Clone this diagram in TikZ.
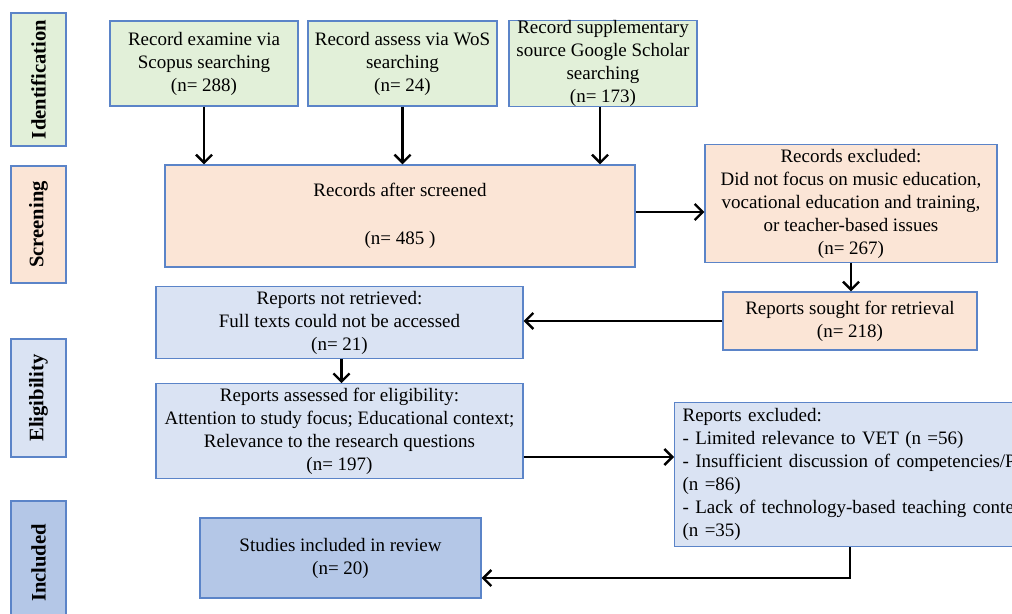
\documentclass[tikz,border=0pt]{standalone}
\usepackage{fontspec}
\setmainfont{Liberation Serif}
\usetikzlibrary{arrows.meta}
\definecolor{idgreen}{HTML}{E2F0D9}
\definecolor{scrpeach}{HTML}{FBE5D6}
\definecolor{elblue}{HTML}{DAE3F3}
\definecolor{inblue}{HTML}{B4C7E7}
\definecolor{edgeblue}{HTML}{5B84C8}
\begin{document}
\begin{tikzpicture}[x=0.5pt, y=-0.5pt,
  box/.style={draw=edgeblue, line width=0.6pt, inner sep=2pt, align=center,
    font=\fontsize{9.5}{11.5}\selectfont},
  stage/.style={box, rotate=90, minimum height=27.5pt,
    font=\fontsize{10.3}{12}\selectfont\bfseries},
  flow/.style={line width=1.2pt, -{Straight Barb[length=4pt, width=8pt, line width=1.2pt]}}]
\clip (0,0) rectangle (1012,614);
% stage labels
\node[stage, fill=idgreen, minimum width=66.5pt] (idlab) at (38.5,79.5){Identification};
\node[stage, fill=scrpeach, minimum width=58.5pt] (scrlab) at (38.5,224.5){Screening};
\node[stage, fill=elblue, minimum width=59pt] (elilab) at (38.5,398){Eligibility};
\node[stage, fill=inblue, minimum width=62pt] (inclab) at (38.5,563){Included};
% identification
\node[box, fill=idgreen, minimum width=94pt, minimum height=42.5pt] (scopus) at (204,63.5){Record examine via\\Scopus searching\\(n= 288)};
\node[box, fill=idgreen, minimum width=94.5pt, minimum height=42.5pt] (wos) at (402.5,63.5){Record assess via WoS\\searching\\(n= 24)};
\node[box, fill=idgreen, minimum width=94pt, minimum height=42.5pt, inner sep=0pt] (scholar) at (603,63.5){Record supplementary\\source Google Scholar\\searching\\(n= 173)};
% screening
\node[box, fill=scrpeach, minimum width=235pt, minimum height=51pt] (screened) at (400,216){Records after screened\\[12.5pt](n= 485 )};
\node[box, fill=scrpeach, minimum width=146pt, minimum height=58.5pt] (excl) at (851,203.5){Records excluded:\\Did not focus on music education,\\vocational education and training,\\or teacher-based issues\\(n= 267)};
\node[box, fill=scrpeach, minimum width=127pt, minimum height=29pt] (sought) at (850,321){Reports sought for retrieval\\(n= 218)};
% eligibility
\node[box, fill=elblue, minimum width=183.5pt, minimum height=35.5pt] (notret) at (339.5,322.5){Reports not retrieved:\\Full texts could not be accessed\\(n= 21)};
\node[box, fill=elblue, minimum width=183.5pt, minimum height=46pt] (assessed) at (339.5,431){Reports assessed for eligibility:\\Attention to study focus; Educational context;\\Relevance to the research questions\\(n= 197)};
\node[box, fill=elblue, anchor=north west, text width=200pt, minimum height=72pt, inner xsep=4pt, align=left] (repexcl) at (674,402){Reports excluded:\\- Limited relevance to VET (n =56)\\- Insufficient discussion of competencies/PD\\(n =86)\\- Lack of technology-based teaching context\\(n =35)};
% included
\node[box, fill=inblue, minimum width=140.5pt, minimum height=40pt] (incl) at (340.5,558){Studies included in review\\(n= 20)};
% connectors
\draw[flow] (scopus.south) -- (scopus.south |- screened.north);
\draw[flow] (wos.south) -- (wos.south |- screened.north);
\draw[flow] ([xshift=-1.5pt]scholar.south) -- ([xshift=-1.5pt]scholar.south |- screened.north);
\draw[flow] ([yshift=2pt]screened.east) -- ([yshift=2pt]screened.east -| excl.west);
\draw[flow] (excl.south) -- (excl.south |- sought.north);
\draw[flow] (sought.west) -- (sought.west -| notret.east);
\draw[flow] ([xshift=1pt]notret.south) -- ([xshift=1pt]notret.south |- assessed.north);
\draw[flow] ([yshift=-13pt]assessed.east) -- ([yshift=-13pt]assessed.east -| repexcl.west);
\draw[flow] ([xshift=88pt]repexcl.south west) |- ([yshift=-10pt]incl.east);
\end{tikzpicture}
\end{document}
